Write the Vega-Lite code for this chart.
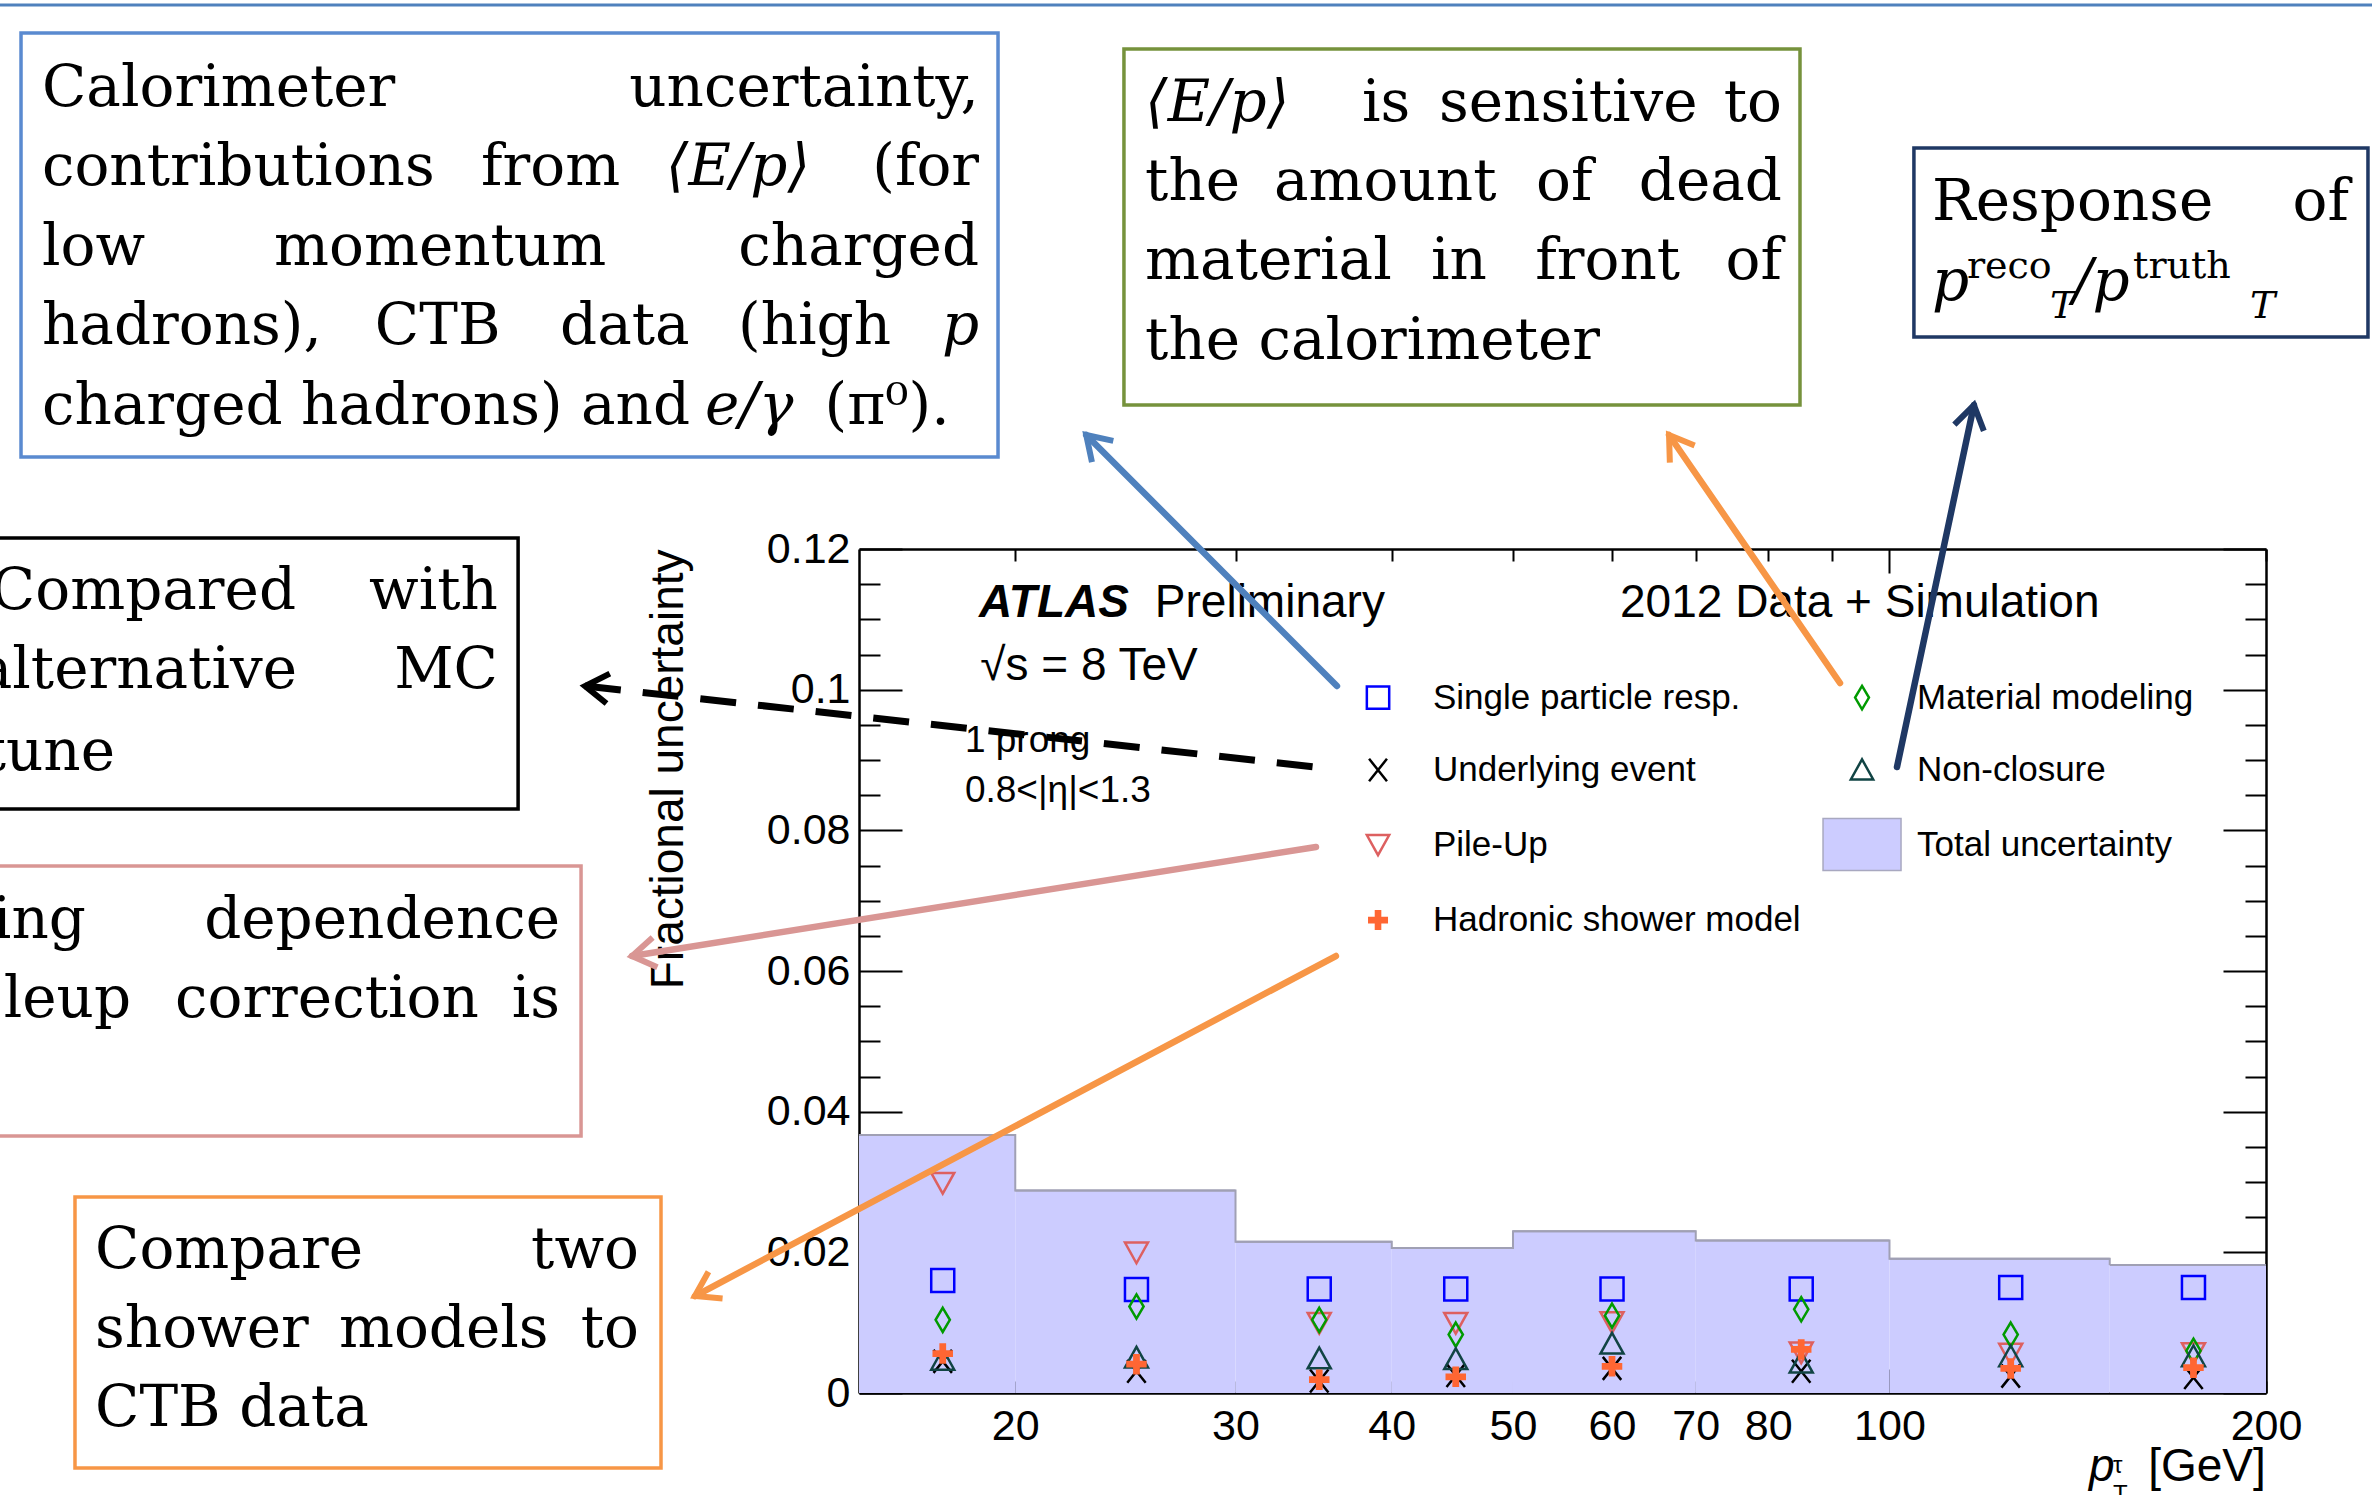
{
  "$schema": "https://vega.github.io/schema/vega-lite/v6.json",
  "width": 1407,
  "height": 844,
  "autosize": {"type": "none"},
  "padding": {"left": 859, "top": 549, "right": 106, "bottom": 102},
  "background": "white",
  "config": {
    "view": {"stroke": null},
    "axis": {"grid": false, "domainColor": "black", "domainWidth": 2.5, "tickColor": "black", "tickWidth": 2, "labelFont": "Liberation Sans", "labelFontSize": 43, "labelColor": "black", "titleColor": "black", "zindex": 1, "labelOverlap": false, "labelFlush": false, "labelBound": false},
    "text": {"font": "Liberation Sans", "color": "black"}
  },
  "datasets": {
    "bins": [
      {"lo": 15, "hi": 20, "total": 0.0367},
      {"lo": 20, "hi": 30, "total": 0.0288},
      {"lo": 30, "hi": 40, "total": 0.0215},
      {"lo": 40, "hi": 50, "total": 0.0206},
      {"lo": 50, "hi": 70, "total": 0.0230},
      {"lo": 70, "hi": 100, "total": 0.0217},
      {"lo": 100, "hi": 150, "total": 0.0191},
      {"lo": 150, "hi": 200, "total": 0.0182}
    ],
    "points": [
      {"pt": 17.5, "series": "Single particle resp.", "value": 0.0160},
      {"pt": 25, "series": "Single particle resp.", "value": 0.0147},
      {"pt": 35, "series": "Single particle resp.", "value": 0.0148},
      {"pt": 45, "series": "Single particle resp.", "value": 0.0148},
      {"pt": 60, "series": "Single particle resp.", "value": 0.0148},
      {"pt": 85, "series": "Single particle resp.", "value": 0.0148},
      {"pt": 125, "series": "Single particle resp.", "value": 0.0150},
      {"pt": 175, "series": "Single particle resp.", "value": 0.0150},
      {"pt": 17.5, "series": "Underlying event", "value": 0.0045},
      {"pt": 25, "series": "Underlying event", "value": 0.0031},
      {"pt": 35, "series": "Underlying event", "value": 0.0017},
      {"pt": 45, "series": "Underlying event", "value": 0.0025},
      {"pt": 60, "series": "Underlying event", "value": 0.0035},
      {"pt": 85, "series": "Underlying event", "value": 0.0031},
      {"pt": 125, "series": "Underlying event", "value": 0.0024},
      {"pt": 175, "series": "Underlying event", "value": 0.0022},
      {"pt": 17.5, "series": "Pile-Up", "value": 0.0299},
      {"pt": 25, "series": "Pile-Up", "value": 0.0200},
      {"pt": 35, "series": "Pile-Up", "value": 0.0100},
      {"pt": 45, "series": "Pile-Up", "value": 0.0100},
      {"pt": 60, "series": "Pile-Up", "value": 0.0101},
      {"pt": 85, "series": "Pile-Up", "value": 0.0058},
      {"pt": 125, "series": "Pile-Up", "value": 0.0056},
      {"pt": 175, "series": "Pile-Up", "value": 0.0057},
      {"pt": 17.5, "series": "Hadronic shower model", "value": 0.0056},
      {"pt": 25, "series": "Hadronic shower model", "value": 0.0041},
      {"pt": 35, "series": "Hadronic shower model", "value": 0.0019},
      {"pt": 45, "series": "Hadronic shower model", "value": 0.0023},
      {"pt": 60, "series": "Hadronic shower model", "value": 0.0038},
      {"pt": 85, "series": "Hadronic shower model", "value": 0.0062},
      {"pt": 125, "series": "Hadronic shower model", "value": 0.0035},
      {"pt": 175, "series": "Hadronic shower model", "value": 0.0036},
      {"pt": 17.5, "series": "Material modeling", "value": 0.0104},
      {"pt": 25, "series": "Material modeling", "value": 0.0123},
      {"pt": 35, "series": "Material modeling", "value": 0.0104},
      {"pt": 45, "series": "Material modeling", "value": 0.0083},
      {"pt": 60, "series": "Material modeling", "value": 0.0110},
      {"pt": 85, "series": "Material modeling", "value": 0.0119},
      {"pt": 125, "series": "Material modeling", "value": 0.0083},
      {"pt": 175, "series": "Material modeling", "value": 0.0060},
      {"pt": 17.5, "series": "Non-closure", "value": 0.0047},
      {"pt": 25, "series": "Non-closure", "value": 0.0050},
      {"pt": 35, "series": "Non-closure", "value": 0.0049},
      {"pt": 45, "series": "Non-closure", "value": 0.0048},
      {"pt": 60, "series": "Non-closure", "value": 0.0070},
      {"pt": 85, "series": "Non-closure", "value": 0.0043},
      {"pt": 125, "series": "Non-closure", "value": 0.0052},
      {"pt": 175, "series": "Non-closure", "value": 0.0052}
    ],
    "legend": [
      {"series": "Single particle resp.", "sx": 39.0, "tx": 43.15, "ly": 0.09887},
      {"series": "Underlying event", "sx": 39.0, "tx": 43.15, "ly": 0.08858},
      {"series": "Pile-Up", "sx": 39.0, "tx": 43.15, "ly": 0.07797},
      {"series": "Hadronic shower model", "sx": 39.0, "tx": 43.15, "ly": 0.06724},
      {"series": "Material modeling", "sx": 95.07, "tx": 105.2, "ly": 0.09887},
      {"series": "Non-closure", "sx": 95.07, "tx": 105.2, "ly": 0.08858},
      {"series": "Total uncertainty", "sx": 95.07, "tx": 105.2, "ly": 0.07797}
    ],
    "plottext": [
      {"t": "ATLAS", "x": 18.71, "y": 0.11033, "role": "atlas"},
      {"t": "Preliminary", "x": 25.86, "y": 0.11033, "role": "big"},
      {"t": "2012 Data + Simulation", "x": 60.89, "y": 0.11033, "role": "big"},
      {"t": "√s = 8 TeV", "x": 18.75, "y": 0.10137, "role": "big"},
      {"t": "1 prong", "x": 18.23, "y": 0.09114, "role": "small"},
      {"t": "0.8<|η|<1.3", "x": 18.23, "y": 0.08403, "role": "small"},
      {"t": "p", "x": 144.4, "y": -0.01251, "role": "ital"},
      {"t": "τ", "x": 150.9, "y": -0.01137, "role": "tiny"},
      {"t": "T", "x": 150.9, "y": -0.01550, "role": "tiny"},
      {"t": "[GeV]", "x": 161.0, "y": -0.01251, "role": "big"}
    ],
    "boxes": [
      {"topic": "calo", "x1": 3.207, "x2": 19.375, "y1": 0.13308, "y2": 0.19336},
      {"topic": "material", "x1": 24.43, "x2": 84.81, "y1": 0.14047, "y2": 0.19109},
      {"topic": "response", "x1": 104.6, "x2": 241.3, "y1": 0.15014, "y2": 0.17701},
      {"topic": "mctune", "x1": 2.9, "x2": 8.008, "y1": 0.08303, "y2": 0.12156},
      {"topic": "pileup", "x1": 2.9, "x2": 8.992, "y1": 0.03654, "y2": 0.07493},
      {"topic": "shower", "x1": 3.542, "x2": 10.418, "y1": -0.01066, "y2": 0.02787}
    ],
    "arrows": [
      {"topic": "calo", "pt": 36.16, "val": 0.10052},
      {"topic": "calo", "pt": 22.79, "val": 0.13621},
      {"topic": "material", "pt": 91.29, "val": 0.10095},
      {"topic": "material", "pt": 66.64, "val": 0.13621},
      {"topic": "response", "pt": 101.39, "val": 0.08900},
      {"topic": "response", "pt": 116.82, "val": 0.14047},
      {"topic": "mctune", "pt": 34.79, "val": 0.08900},
      {"topic": "mctune", "pt": 9.058, "val": 0.10052},
      {"topic": "pileup", "pt": 34.79, "val": 0.07763},
      {"topic": "pileup", "pt": 9.877, "val": 0.06213},
      {"topic": "shower", "pt": 36.09, "val": 0.06213},
      {"topic": "shower", "pt": 11.09, "val": 0.01379}
    ],
    "heads": [
      {"topic": "calo", "pt": 22.79, "val": 0.13621, "angle": -44.9},
      {"topic": "material", "pt": 66.64, "val": 0.13621, "angle": -34.6},
      {"topic": "response", "pt": 116.82, "val": 0.14047, "angle": 12.0},
      {"topic": "mctune", "pt": 9.058, "val": 0.10052, "angle": -83.7},
      {"topic": "pileup", "pt": 9.877, "val": 0.06213, "angle": -99.05},
      {"topic": "shower", "pt": 11.09, "val": 0.01379, "angle": -117.9}
    ],
    "decor": [
      {"x1": 3.0, "x2": 250, "y": 0.19735}
    ],
    "slidetext": [
      {"t": "Calorimeter", "x": 3.333, "y": 0.18299, "anchor": "start", "kind": "text"},
      {"t": "uncertainty,", "x": 18.71, "y": 0.18299, "anchor": "end", "kind": "text"},
      {"t": "contributions", "x": 3.333, "y": 0.17175, "anchor": "start", "kind": "text"},
      {"t": "from", "x": 7.48, "y": 0.17175, "anchor": "start", "kind": "text"},
      {"t": "⟨E/p⟩", "x": 10.51, "y": 0.17175, "anchor": "start", "kind": "math"},
      {"t": "(for", "x": 18.71, "y": 0.17175, "anchor": "end", "kind": "text"},
      {"t": "low", "x": 3.333, "y": 0.16038, "anchor": "start", "kind": "text"},
      {"t": "momentum", "x": 5.109, "y": 0.16038, "anchor": "start", "kind": "text"},
      {"t": "charged", "x": 18.71, "y": 0.16038, "anchor": "end", "kind": "text"},
      {"t": "hadrons),", "x": 3.333, "y": 0.14915, "anchor": "start", "kind": "text"},
      {"t": "CTB", "x": 6.152, "y": 0.14915, "anchor": "start", "kind": "text"},
      {"t": "data", "x": 8.651, "y": 0.14915, "anchor": "start", "kind": "text"},
      {"t": "(high", "x": 12.005, "y": 0.14915, "anchor": "start", "kind": "text"},
      {"t": "p", "x": 18.71, "y": 0.14915, "anchor": "end", "kind": "math"},
      {"t": "charged hadrons) and", "x": 3.333, "y": 0.13777, "anchor": "start", "kind": "text"},
      {"t": "e/γ", "x": 11.295, "y": 0.13777, "anchor": "start", "kind": "math"},
      {"t": "(π⁰).", "x": 14.08, "y": 0.13777, "anchor": "start", "kind": "text"},
      {"t": "⟨E/p⟩", "x": 25.40, "y": 0.18090, "anchor": "start", "kind": "math"},
      {"t": "is", "x": 37.86, "y": 0.18090, "anchor": "start", "kind": "text"},
      {"t": "sensitive", "x": 43.63, "y": 0.18090, "anchor": "start", "kind": "text"},
      {"t": "to", "x": 82.04, "y": 0.18090, "anchor": "end", "kind": "text"},
      {"t": "the", "x": 25.40, "y": 0.16962, "anchor": "start", "kind": "text"},
      {"t": "amount", "x": 32.20, "y": 0.16962, "anchor": "start", "kind": "text"},
      {"t": "of", "x": 52.17, "y": 0.16962, "anchor": "start", "kind": "text"},
      {"t": "dead", "x": 82.04, "y": 0.16962, "anchor": "end", "kind": "text"},
      {"t": "material", "x": 25.40, "y": 0.15839, "anchor": "start", "kind": "text"},
      {"t": "in", "x": 43.00, "y": 0.15839, "anchor": "start", "kind": "text"},
      {"t": "front", "x": 52.1, "y": 0.15839, "anchor": "start", "kind": "text"},
      {"t": "of", "x": 82.04, "y": 0.15839, "anchor": "end", "kind": "text"},
      {"t": "the calorimeter", "x": 25.40, "y": 0.14701, "anchor": "start", "kind": "text"},
      {"t": "Response", "x": 108.14, "y": 0.16678, "anchor": "start", "kind": "text"},
      {"t": "of", "x": 233.0, "y": 0.16678, "anchor": "end", "kind": "text"},
      {"t": "p", "x": 108.14, "y": 0.15541, "anchor": "start", "kind": "math"},
      {"t": "reco", "x": 115.32, "y": 0.15853, "anchor": "start", "kind": "script"},
      {"t": "T", "x": 134.4, "y": 0.15284, "anchor": "start", "kind": "scriptmath"},
      {"t": "/p", "x": 140.2, "y": 0.15541, "anchor": "start", "kind": "math"},
      {"t": "truth", "x": 156.6, "y": 0.15853, "anchor": "start", "kind": "script"},
      {"t": "T", "x": 194.2, "y": 0.15284, "anchor": "start", "kind": "scriptmath"},
      {"t": "Compared", "x": 5.321, "y": 0.11147, "anchor": "end", "kind": "text"},
      {"t": "with", "x": 7.716, "y": 0.11147, "anchor": "end", "kind": "text"},
      {"t": "alternative", "x": 5.331, "y": 0.10017, "anchor": "end", "kind": "text"},
      {"t": "MC", "x": 7.716, "y": 0.10017, "anchor": "end", "kind": "text"},
      {"t": "tune", "x": 3.813, "y": 0.08858, "anchor": "end", "kind": "text"},
      {"t": "ing", "x": 3.614, "y": 0.06469, "anchor": "end", "kind": "text"},
      {"t": "dependence", "x": 8.651, "y": 0.06469, "anchor": "end", "kind": "text"},
      {"t": "leup", "x": 3.927, "y": 0.05346, "anchor": "end", "kind": "text"},
      {"t": "correction", "x": 4.258, "y": 0.05346, "anchor": "start", "kind": "text"},
      {"t": "is", "x": 8.651, "y": 0.05346, "anchor": "end", "kind": "text"},
      {"t": "Compare", "x": 3.675, "y": 0.017773, "anchor": "start", "kind": "text"},
      {"t": "two", "x": 10.004, "y": 0.017773, "anchor": "end", "kind": "text"},
      {"t": "shower", "x": 3.675, "y": 0.00654, "anchor": "start", "kind": "text"},
      {"t": "models", "x": 5.758, "y": 0.00654, "anchor": "start", "kind": "text"},
      {"t": "to", "x": 10.004, "y": 0.00654, "anchor": "end", "kind": "text"},
      {"t": "CTB data", "x": 3.675, "y": -0.004692, "anchor": "start", "kind": "text"}
    ]
  },
  "resolve": {"axis": {"x": "independent", "y": "independent"}, "scale": {"stroke": "independent"}},
  "layer": [
    {
      "data": {"name": "bins"},
      "mark": {"type": "rect", "color": "#CCCCFF"},
      "encoding": {
        "x": {"field": "lo", "type": "quantitative", "scale": {"type": "log", "domain": [15, 200], "nice": false},
          "axis": {"orient": "bottom", "values": [20, 30, 40, 50, 60, 70, 80, 90, 100, 200], "labelExpr": "datum.value == 90 ? '' : format(datum.value, 'd')",
            "tickSize": {"condition": {"test": "datum.value == 100", "value": -24}, "value": -12},
            "labelPadding": {"condition": {"test": "datum.value == 100", "value": 36}, "value": 24}, "title": null}},
        "x2": {"field": "hi"},
        "y": {"field": "total", "type": "quantitative", "scale": {"domain": [0, 0.12], "nice": false, "zero": false},
          "axis": {"orient": "left", "values": [0, 0.005, 0.01, 0.015, 0.02, 0.025, 0.03, 0.035, 0.04, 0.045, 0.05, 0.055, 0.06, 0.065, 0.07, 0.075, 0.08, 0.085, 0.09, 0.095, 0.1, 0.105, 0.11, 0.115, 0.12],
            "labelExpr": "abs(datum.value*50 - round(datum.value*50)) < 0.001 ? format(datum.value, '~g') : ''",
            "tickSize": {"condition": {"test": "abs(datum.value*50 - round(datum.value*50)) < 0.001", "value": -43}, "value": -21},
            "labelPadding": 52,
            "title": "Fractional uncertainty", "titleFont": "Liberation Sans", "titleFontSize": 46, "titleFontWeight": "normal", "titleAnchor": "end", "titlePadding": 74}},
        "y2": {"datum": 0}
      }
    },
    {
      "data": {"name": "bins"},
      "mark": {"type": "rule", "color": "#A0A0B4", "strokeWidth": 2},
      "encoding": {
        "x": {"field": "lo", "type": "quantitative",
          "axis": {"orient": "top", "values": [20, 30, 40, 50, 60, 70, 80, 90, 100, 200], "labels": false,
            "tickSize": {"condition": {"test": "datum.value == 100", "value": -24}, "value": -12}, "title": null}},
        "x2": {"field": "hi"},
        "y": {"field": "total", "type": "quantitative",
          "axis": {"orient": "right", "values": [0, 0.005, 0.01, 0.015, 0.02, 0.025, 0.03, 0.035, 0.04, 0.045, 0.05, 0.055, 0.06, 0.065, 0.07, 0.075, 0.08, 0.085, 0.09, 0.095, 0.1, 0.105, 0.11, 0.115, 0.12], "labels": false,
            "tickSize": {"condition": {"test": "abs(datum.value*50 - round(datum.value*50)) < 0.001", "value": -43}, "value": -21}, "title": null}}
      }
    },
    {
      "data": {"name": "bins"},
      "mark": {"type": "line", "interpolate": "step-after", "color": "#A0A0B4", "strokeWidth": 2},
      "encoding": {
        "x": {"field": "lo", "type": "quantitative", "axis": null},
        "y": {"field": "total", "type": "quantitative", "axis": null}
      }
    },
    {
      "data": {"name": "points"},
      "transform": [{"filter": "datum.series != 'Hadronic shower model'"}],
      "mark": {"type": "point", "filled": false, "strokeWidth": 2.5, "size": 530, "opacity": 1},
      "encoding": {
        "x": {"field": "pt", "type": "quantitative", "axis": null},
        "y": {"field": "value", "type": "quantitative", "axis": null},
        "shape": {"field": "series", "type": "nominal", "legend": null, "scale": {"domain": ["Single particle resp.", "Underlying event", "Pile-Up", "Hadronic shower model", "Material modeling", "Non-closure"], "range": ["M -1 -1 L 1 -1 L 1 1 L -1 1 Z", "M -0.8 -1 L 0.8 1 M -0.8 1 L 0.8 -1", "M -1 -0.85 L 1 -0.85 L 0 0.95 Z", "M -0.33 -1 L 0.33 -1 L 0.33 -0.33 L 1 -0.33 L 1 0.33 L 0.33 0.33 L 0.33 1 L -0.33 1 L -0.33 0.33 L -1 0.33 L -1 -0.33 L -0.33 -0.33 Z", "M 0 -1.05 L 0.62 0 L 0 1.05 L -0.62 0 Z", "M -1 0.85 L 1 0.85 L 0 -0.95 Z"]}},
        "color": {"field": "series", "type": "nominal", "legend": null, "scale": {"domain": ["Single particle resp.", "Underlying event", "Pile-Up", "Hadronic shower model", "Material modeling", "Non-closure"], "range": ["#0000FF", "#000000", "#DD6060", "#FF6633", "#009A00", "#114444"]}}
      }
    },
    {
      "data": {"name": "points"},
      "transform": [{"filter": "datum.series == 'Hadronic shower model'"}],
      "mark": {"type": "point", "filled": true, "size": 420, "opacity": 1},
      "encoding": {
        "x": {"field": "pt", "type": "quantitative", "axis": null},
        "y": {"field": "value", "type": "quantitative", "axis": null},
        "shape": {"field": "series", "type": "nominal", "legend": null},
        "color": {"field": "series", "type": "nominal", "legend": null}
      }
    },
    {
      "data": {"name": "legend"},
      "transform": [{"filter": "datum.series != 'Hadronic shower model' && datum.series != 'Total uncertainty'"}],
      "mark": {"type": "point", "filled": false, "strokeWidth": 2.5, "size": 500, "opacity": 1},
      "encoding": {
        "x": {"field": "sx", "type": "quantitative", "axis": null},
        "y": {"field": "ly", "type": "quantitative", "axis": null},
        "shape": {"field": "series", "type": "nominal", "legend": null},
        "color": {"field": "series", "type": "nominal", "legend": null}
      }
    },
    {
      "data": {"name": "legend"},
      "transform": [{"filter": "datum.series == 'Hadronic shower model'"}],
      "mark": {"type": "point", "filled": true, "size": 400, "opacity": 1},
      "encoding": {
        "x": {"field": "sx", "type": "quantitative", "axis": null},
        "y": {"field": "ly", "type": "quantitative", "axis": null},
        "shape": {"field": "series", "type": "nominal", "legend": null},
        "color": {"field": "series", "type": "nominal", "legend": null}
      }
    },
    {
      "data": {"name": "legend"},
      "transform": [{"filter": "datum.series == 'Total uncertainty'"}],
      "mark": {"type": "point", "filled": true, "shape": "M -1.5 -1 L 1.5 -1 L 1.5 1 L -1.5 1 Z", "size": 2704, "fill": "#CCCCFF", "stroke": "#A8A8C0", "strokeWidth": 1.5, "opacity": 1},
      "encoding": {
        "x": {"field": "sx", "type": "quantitative", "axis": null},
        "y": {"field": "ly", "type": "quantitative", "axis": null}
      }
    },
    {
      "data": {"name": "legend"},
      "mark": {"type": "text", "align": "left", "baseline": "middle", "fontSize": 35, "font": "Liberation Sans"},
      "encoding": {
        "x": {"field": "tx", "type": "quantitative", "axis": null},
        "y": {"field": "ly", "type": "quantitative", "axis": null},
        "text": {"field": "series"}
      }
    },
    {
      "data": {"name": "plottext"},
      "transform": [{"filter": "datum.role == 'atlas'"}],
      "mark": {"type": "text", "align": "left", "baseline": "alphabetic", "fontSize": 46, "fontWeight": "bold", "fontStyle": "italic", "font": "Liberation Sans"},
      "encoding": {
        "x": {"field": "x", "type": "quantitative", "axis": null},
        "y": {"field": "y", "type": "quantitative", "axis": null},
        "text": {"field": "t"}
      }
    },
    {
      "data": {"name": "plottext"},
      "transform": [{"filter": "datum.role == 'big'"}],
      "mark": {"type": "text", "align": "left", "baseline": "alphabetic", "fontSize": 46, "font": "Liberation Sans"},
      "encoding": {
        "x": {"field": "x", "type": "quantitative", "axis": null},
        "y": {"field": "y", "type": "quantitative", "axis": null},
        "text": {"field": "t"}
      }
    },
    {
      "data": {"name": "plottext"},
      "transform": [{"filter": "datum.role == 'small'"}],
      "mark": {"type": "text", "align": "left", "baseline": "alphabetic", "fontSize": 37, "font": "Liberation Sans"},
      "encoding": {
        "x": {"field": "x", "type": "quantitative", "axis": null},
        "y": {"field": "y", "type": "quantitative", "axis": null},
        "text": {"field": "t"}
      }
    },
    {
      "data": {"name": "plottext"},
      "transform": [{"filter": "datum.role == 'ital'"}],
      "mark": {"type": "text", "align": "left", "baseline": "alphabetic", "fontSize": 46, "fontStyle": "italic", "font": "Liberation Sans"},
      "encoding": {
        "x": {"field": "x", "type": "quantitative", "axis": null},
        "y": {"field": "y", "type": "quantitative", "axis": null},
        "text": {"field": "t"}
      }
    },
    {
      "data": {"name": "plottext"},
      "transform": [{"filter": "datum.role == 'tiny'"}],
      "mark": {"type": "text", "align": "left", "baseline": "alphabetic", "fontSize": 24, "font": "Liberation Sans"},
      "encoding": {
        "x": {"field": "x", "type": "quantitative", "axis": null},
        "y": {"field": "y", "type": "quantitative", "axis": null},
        "text": {"field": "t"}
      }
    },
    {
      "data": {"name": "decor"},
      "mark": {"type": "rule", "color": "#4F81BD", "strokeWidth": 3},
      "encoding": {
        "x": {"field": "x1", "type": "quantitative", "axis": null},
        "x2": {"field": "x2"},
        "y": {"field": "y", "type": "quantitative", "axis": null}
      }
    },
    {
      "data": {"name": "boxes"},
      "mark": {"type": "rect", "filled": false, "strokeWidth": 3.5},
      "encoding": {
        "x": {"field": "x1", "type": "quantitative", "axis": null},
        "x2": {"field": "x2"},
        "y": {"field": "y1", "type": "quantitative", "axis": null},
        "y2": {"field": "y2"},
        "stroke": {"field": "topic", "type": "nominal", "legend": null, "scale": {"domain": ["calo", "material", "response", "mctune", "pileup", "shower"], "range": ["#5A8AD0", "#76923C", "#1F3864", "#000000", "#D99694", "#F79646"]}}
      }
    },
    {
      "data": {"name": "arrows"},
      "transform": [{"filter": "datum.topic != 'mctune'"}],
      "mark": {"type": "line", "strokeWidth": 6.5, "strokeCap": "round"},
      "encoding": {
        "x": {"field": "pt", "type": "quantitative", "axis": null},
        "y": {"field": "val", "type": "quantitative", "axis": null},
        "stroke": {"field": "topic", "type": "nominal", "legend": null, "scale": {"domain": ["calo", "material", "response", "mctune", "pileup", "shower"], "range": ["#4F81BD", "#F79646", "#1F3864", "#000000", "#D99694", "#F79646"]}}
      }
    },
    {
      "data": {"name": "arrows"},
      "transform": [{"filter": "datum.topic == 'mctune'"}],
      "mark": {"type": "line", "strokeWidth": 7, "color": "#000000", "strokeDash": [36, 22]},
      "encoding": {
        "x": {"field": "pt", "type": "quantitative", "axis": null},
        "y": {"field": "val", "type": "quantitative", "axis": null}
      }
    },
    {
      "data": {"name": "heads"},
      "mark": {"type": "point", "filled": false, "strokeWidth": 6, "size": 3000, "opacity": 1, "shape": "M -0.55 0.85 L 0 0 L 0.55 0.85", "strokeJoin": "miter"},
      "encoding": {
        "x": {"field": "pt", "type": "quantitative", "axis": null},
        "y": {"field": "val", "type": "quantitative", "axis": null},
        "angle": {"field": "angle", "type": "quantitative", "scale": null},
        "stroke": {"field": "topic", "type": "nominal", "legend": null, "scale": {"domain": ["calo", "material", "response", "mctune", "pileup", "shower"], "range": ["#4F81BD", "#F79646", "#1F3864", "#000000", "#D99694", "#F79646"]}}
      }
    },
    {
      "data": {"name": "slidetext"},
      "transform": [{"filter": "datum.kind == 'text' && datum.anchor == 'start'"}],
      "mark": {"type": "text", "align": "left", "baseline": "alphabetic", "fontSize": 58, "font": "DejaVu Serif"},
      "encoding": {
        "x": {"field": "x", "type": "quantitative", "axis": null},
        "y": {"field": "y", "type": "quantitative", "axis": null},
        "text": {"field": "t"}
      }
    },
    {
      "data": {"name": "slidetext"},
      "transform": [{"filter": "datum.kind == 'text' && datum.anchor == 'end'"}],
      "mark": {"type": "text", "align": "right", "baseline": "alphabetic", "fontSize": 58, "font": "DejaVu Serif"},
      "encoding": {
        "x": {"field": "x", "type": "quantitative", "axis": null},
        "y": {"field": "y", "type": "quantitative", "axis": null},
        "text": {"field": "t"}
      }
    },
    {
      "data": {"name": "slidetext"},
      "transform": [{"filter": "datum.kind == 'math' && datum.anchor == 'start'"}],
      "mark": {"type": "text", "align": "left", "baseline": "alphabetic", "fontSize": 58, "fontStyle": "italic", "font": "DejaVu Serif"},
      "encoding": {
        "x": {"field": "x", "type": "quantitative", "axis": null},
        "y": {"field": "y", "type": "quantitative", "axis": null},
        "text": {"field": "t"}
      }
    },
    {
      "data": {"name": "slidetext"},
      "transform": [{"filter": "datum.kind == 'math' && datum.anchor == 'end'"}],
      "mark": {"type": "text", "align": "right", "baseline": "alphabetic", "fontSize": 58, "fontStyle": "italic", "font": "DejaVu Serif"},
      "encoding": {
        "x": {"field": "x", "type": "quantitative", "axis": null},
        "y": {"field": "y", "type": "quantitative", "axis": null},
        "text": {"field": "t"}
      }
    },
    {
      "data": {"name": "slidetext"},
      "transform": [{"filter": "datum.kind == 'script'"}],
      "mark": {"type": "text", "align": "left", "baseline": "alphabetic", "fontSize": 38, "font": "DejaVu Serif"},
      "encoding": {
        "x": {"field": "x", "type": "quantitative", "axis": null},
        "y": {"field": "y", "type": "quantitative", "axis": null},
        "text": {"field": "t"}
      }
    },
    {
      "data": {"name": "slidetext"},
      "transform": [{"filter": "datum.kind == 'scriptmath'"}],
      "mark": {"type": "text", "align": "left", "baseline": "alphabetic", "fontSize": 38, "fontStyle": "italic", "font": "DejaVu Serif"},
      "encoding": {
        "x": {"field": "x", "type": "quantitative", "axis": null},
        "y": {"field": "y", "type": "quantitative", "axis": null},
        "text": {"field": "t"}
      }
    }
  ]
}
